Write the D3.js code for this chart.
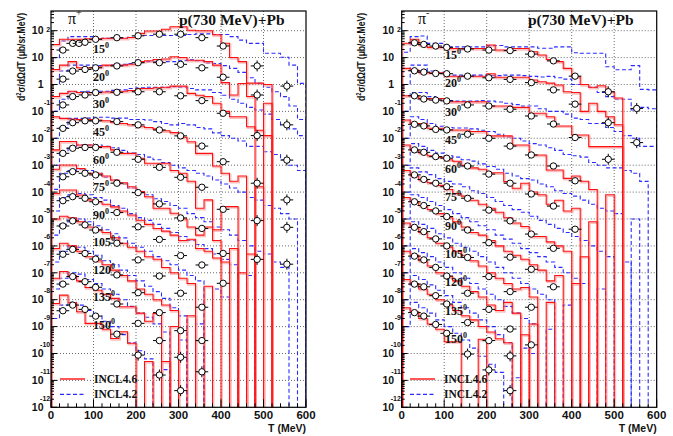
<!DOCTYPE html>
<html><head><meta charset="utf-8">
<script src="https://cdn.jsdelivr.net/npm/d3@7"></script>
<style>body{margin:0;background:#fff}svg{display:block}</style>
</head><body>
<svg id="c" width="673" height="436"></svg>
<script>
// ---------------- DATA (log10 of plotted, scaled cross sections) ----------------
const angles = [15,20,30,45,60,75,90,105,120,135,150];
const xTicks = [0,100,200,300,400,500,600];
const yTickExps = [2,1,0,-1,-2,-3,-4,-5,-6,-7,-8,-9,-10,-11,-12];
const binWidth = 20;

// pi+ experimental points
const pipExpT = [28,51,66,80,105,155,205,255,305,355,405,485,555];
const pipExpLog = [
 [1.28,1.53,1.53,1.57,1.68,1.74,1.81,1.87,1.87,1.74,1.43,0.69,-0.06],
 [0.20,0.50,null,0.56,0.62,0.69,0.81,0.81,0.75,0.62,0.27,-0.39,-1.50],
 [-0.76,-0.45,null,-0.39,-0.30,-0.29,-0.27,-0.27,-0.42,-0.60,-1.07,-1.90,-2.81],
 [-1.63,-1.42,null,-1.35,-1.35,-1.38,-1.50,-1.69,-1.91,-2.29,-2.87,-3.67,-4.29],
 [-2.56,-2.37,null,-2.34,-2.34,-2.52,-2.78,-3.08,-3.45,-3.82,-4.64,-5.06,-5.31],
 [-3.43,-3.24,null,-3.30,-3.36,-3.67,-4.02,-4.44,-4.96,-5.35,-6.28,-6.50,-6.68],
 [-4.32,-4.17,null,-4.23,-4.36,-4.76,-5.29,-5.76,-6.36,-6.71,-7.39,null,null],
 [-5.26,-5.07,null,-5.22,-5.41,-5.90,-6.52,-7.12,-7.76,-8.28,null,null,null],
 [-6.31,-6.13,null,-6.28,-6.49,-7.08,-7.74,-8.48,-9.15,-9.52,null,null,null],
 [-7.42,-7.14,null,-7.33,-7.54,-8.16,-8.88,-9.52,-10.14,-10.68,null,null,null],
 [-8.41,-8.20,null,-8.36,-8.61,-9.28,-10.06,-10.80,-11.38,null,null,null,null]
];
// pi+ INCL4.6 (red), 20 MeV bins from 0 to 600, null = empty bin
const pipRedLog = [
 [1.49,1.68,1.68,1.68,1.70,1.70,1.72,1.72,1.72,1.75,1.90,1.99,1.99,2.05,2.15,2.15,2.02,2.00,2.00,1.85,1.53,1.00,0.85,0.05,0.05,0.00],
 [0.56,0.72,0.85,0.62,0.62,0.65,0.72,0.72,0.72,0.75,0.85,0.88,0.93,0.95,1.03,1.00,0.90,0.90,0.85,0.72,0.07,-0.39,0.04,-0.45,null,-0.70],
 [-0.45,-0.33,-0.25,-0.30,-0.30,-0.30,-0.28,-0.27,-0.25,-0.22,-0.15,-0.15,-0.12,-0.10,-0.06,-0.06,-0.33,-0.40,-0.45,-0.70,-1.00,-1.20,-1.20,-1.57,-1.70,-1.90],
 [-1.20,-1.26,-1.28,-1.30,-1.30,-1.32,-1.35,-1.40,-1.45,-1.50,-1.55,-1.60,-1.65,-1.72,-1.79,-1.96,-2.13,-2.56,-2.56,-3.03,-3.30,-3.60,-3.40,null,-3.80],
 [-2.43,-2.12,-2.12,-2.25,-2.25,-2.31,-2.31,-2.43,-2.56,-2.56,-2.74,-2.93,-2.93,-2.93,-3.20,-3.30,-3.60,-4.60,-4.29,-5.40,-4.54,-4.54],
 [-3.15,-2.99,-2.99,-3.12,-3.30,-3.30,-3.40,-3.55,-3.65,-3.80,-3.98,-4.17,-4.60,-4.60,-4.79,-5.00,-5.30,-5.60,-5.30,-5.80,null,-6.10,null,-6.30],
 [-4.05,-3.92,-3.92,-4.11,-4.29,-4.35,-4.45,-4.55,-4.70,-4.85,-5.05,-5.20,-5.35,-5.45,-5.60,-5.80,-5.75,-6.10,-6.20,-6.45,-6.60,null,-7.00],
 [-5.00,-4.90,-4.95,-5.10,-5.30,-5.40,-5.50,-5.70,-5.90,-6.05,-6.20,-6.40,-6.50,-6.80,-7.00,-7.20,-7.40,null,-7.50],
 [-6.10,-5.90,-6.00,-6.20,-6.40,-6.55,-6.70,-6.90,-7.10,-7.30,-7.60,-7.80,-8.00,-8.20,-8.40,null,-8.60],
 [-7.20,-6.95,-7.10,-7.30,-7.55,-7.65,-7.80,-7.95,-8.26,-8.26,-8.50,-8.80,-8.51,null,-9.00],
 [-8.14,-7.83,-8.11,-8.45,-8.88,-8.88,-9.10,-9.44,-9.19,-9.62,null,-10.30,null,-10.30]
];
// pi+ INCL4.2 (blue dashed)
const pipBlueLog = [
 [1.00,1.62,1.78,1.78,1.78,1.70,1.72,1.72,1.72,1.75,1.82,1.82,1.82,1.82,1.82,1.82,1.86,1.88,1.88,1.86,1.86,1.78,1.65,1.53,1.53,1.16,1.16,1.01,0.72,0.04],
 [0.00,0.50,0.72,0.72,0.72,0.70,0.70,0.72,0.75,0.78,0.85,0.85,0.85,0.85,0.85,0.88,0.92,0.88,0.80,0.78,0.70,0.60,0.45,0.25,0.04,-0.10,-0.27,-0.45,-0.80,-1.30],
 [-1.00,-0.55,-0.27,-0.27,-0.25,-0.25,-0.25,-0.22,-0.20,-0.15,-0.12,-0.10,-0.10,-0.10,-0.08,-0.10,-0.15,-0.20,-0.20,-0.30,-0.40,-0.55,-0.70,-0.85,-0.95,-1.10,-1.30,-1.50,-1.65,-1.90],
 [-2.00,-1.60,-1.26,-1.26,-1.25,-1.22,-1.22,-1.25,-1.25,-1.30,-1.30,-1.32,-1.38,-1.45,-1.50,-1.45,-1.50,-1.60,-1.65,-1.80,-1.90,-2.00,-2.10,-2.30,-2.30,-2.50,-2.60,-2.80,-3.00,-3.20],
 [-3.00,-2.50,-2.30,-2.25,-2.25,-2.25,-2.30,-2.35,-2.45,-2.55,-2.60,-2.70,-2.80,-2.90,-3.00,-3.10,-3.20,-3.30,-3.40,-3.55,-3.70,-3.85,-4.00,-4.20,-4.30,-4.50,-4.60,-4.80,-5.00],
 [-3.90,-3.30,-3.20,-3.15,-3.20,-3.30,-3.45,-3.55,-3.70,-3.85,-4.00,-4.10,-4.25,-4.35,-4.50,-4.60,-4.80,-4.95,-5.10,-5.30,-5.40,-5.60,-5.80,-6.00,-6.20,-6.30,-6.60,-6.80],
 [-4.70,-4.20,-4.10,-4.05,-4.10,-4.20,-4.30,-4.50,-4.60,-4.80,-4.95,-5.05,-5.20,-5.35,-5.50,-5.65,-5.80,-5.95,-6.10,-6.30,-6.50,-6.70,null,-7.10],
 [-5.60,-5.20,-5.00,-5.00,-5.10,-5.25,-5.40,-5.55,-5.70,-5.90,-6.05,-6.20,-6.40,-6.55,-6.70,-6.90,-7.10,-7.30,null,-7.60,-7.90],
 [-6.60,-6.20,-6.00,-6.05,-6.20,-6.35,-6.55,-6.70,-6.90,-7.10,-7.30,-7.50,-7.70,-7.95,-8.30,-8.60,null,-8.90],
 [-7.60,-7.20,-7.00,-7.05,-7.25,-7.40,-7.60,-7.80,-8.00,-8.25,-8.50,-8.65,-8.90,-9.20,null,-9.50],
 [-8.70,-8.20,-8.10,-8.20,-8.40,-8.60,-8.80,-9.00,-9.30,-9.60,-9.90,-10.20,null,-10.60]
];

// pi- experimental points
const pimExpT = [30,52,80,106,155,205,255,305,357,408,486,553];
const pimExpLog = [
 [1.55,1.49,1.43,1.38,1.32,1.28,1.26,1.13,0.88,0.31,-0.27,-0.89],
 [0.51,0.46,0.41,0.40,0.31,0.25,0.19,0.07,-0.20,-0.73,-1.42,-2.16],
 [-0.42,-0.54,-0.58,-0.61,-0.76,-0.80,-0.92,-1.17,-1.47,-1.97,-2.78,null],
 [-1.48,-1.54,-1.67,-1.69,-1.85,-2.00,-2.29,-2.62,-3.03,-3.58,null,null],
 [-2.43,-2.52,-2.68,-2.74,-3.03,-3.33,-3.67,-4.07,-4.52,-5.38,null,null],
 [-3.36,-3.53,-3.67,-3.80,-4.23,-4.67,-5.07,-5.56,-6.09,null,null,null],
 [-4.36,-4.50,-4.70,-4.91,-5.41,-5.88,-6.42,-6.87,-7.52,null,null,null],
 [-5.31,-5.47,-5.74,-6.00,-6.43,-7.14,-7.70,-8.28,null,null,null,null],
 [-6.38,-6.52,-6.80,-7.12,-7.76,-8.36,-9.09,-9.68,null,null,null,null],
 [-7.42,-7.52,-7.85,-8.16,-8.85,-9.52,-10.09,null,null,null,null,null],
 [-8.48,-8.61,-8.92,-9.25,-10.02,-10.61,-11.38,null,null,null,null,null]
];
const pimRedLog = [
 [1.53,1.68,1.47,1.38,1.38,1.34,1.34,1.34,1.34,1.34,1.47,1.28,1.28,1.34,1.34,1.22,1.10,0.93,0.85,0.60,0.29,0.00,-0.10,-0.05,-0.27,-0.50],
 [0.60,0.54,0.44,0.44,0.44,0.31,0.31,0.31,0.31,0.31,0.40,0.27,0.27,0.27,0.27,0.17,0.10,0.05,-0.02,-0.27,-0.30,-1.00,-0.70,-1.00,-1.20,-1.50],
 [-0.42,-0.42,-0.52,-0.52,-0.52,-0.64,-0.64,-0.64,-0.64,-0.64,-0.80,-0.80,-0.80,-0.85,-0.85,-1.07,-1.07,-1.20,-1.54,-1.54,-1.88,-1.88,-2.31,-2.31,-2.31,-2.31],
 [-1.32,-1.45,-1.45,-1.63,-1.63,-1.69,-1.69,-1.69,-1.75,-1.75,-1.91,-1.91,-1.91,-2.25,-2.25,-2.62,-2.62,-3.18,-3.18,-3.49,-3.40,-3.60,-3.90,null,-4.10],
 [-2.25,-2.45,-2.55,-2.65,-2.70,-2.80,-2.85,-3.00,-3.10,-3.15,-3.28,-3.28,-3.61,-3.86,-3.67,-4.00,-4.10,-4.45,-4.30,-4.70,-4.60,null,-5.10],
 [-3.20,-3.40,-3.55,-3.65,-3.75,-3.90,-4.05,-4.15,-4.30,-4.45,-4.60,-4.75,-4.95,-5.15,-5.28,-5.65,-5.65,-5.85,-6.00,-6.20,null,-6.40],
 [-4.20,-4.35,-4.50,-4.65,-4.80,-4.95,-5.10,-5.30,-5.50,-5.60,-5.80,-6.00,-6.20,-6.35,-6.50,-6.70,-6.90,-7.30,-7.10,null,-7.40],
 [-5.15,-5.30,-5.50,-5.70,-5.90,-6.05,-6.20,-6.35,-6.55,-6.75,-7.00,-7.20,-7.40,-7.60,-7.55,-7.90,null,-8.10],
 [-6.20,-6.35,-6.55,-6.75,-7.00,-7.15,-7.30,-7.50,-7.70,-7.90,-8.20,-8.40,-8.10,-8.50,null,-8.90],
 [-7.25,-7.40,-7.60,-7.80,-8.00,-8.20,-8.40,-8.60,-8.75,-9.00,-9.20,-9.45,-9.60,null,-9.30],
 [-8.30,-8.45,-8.70,-8.90,-9.10,-9.56,-9.56,null,null,-9.47]
];
const pimBlueLog = [
 [1.20,1.78,1.80,1.53,1.53,1.40,1.40,1.40,1.40,1.40,1.45,1.45,1.40,1.40,1.40,1.40,1.35,1.35,1.40,1.40,1.18,1.16,1.16,1.16,0.66,0.55,0.55,0.70,-0.18,-0.20],
 [0.00,0.72,0.72,0.50,0.45,0.35,0.35,0.35,0.35,0.35,0.33,0.33,0.35,0.35,0.33,0.30,0.28,0.30,0.25,0.20,0.00,0.00,-0.10,-0.30,-0.45,-0.55,-0.55,-0.95,-0.85,-0.90],
 [-1.00,-0.30,-0.30,-0.45,-0.55,-0.60,-0.62,-0.62,-0.62,-0.60,-0.62,-0.65,-0.70,-0.75,-0.80,-0.80,-0.90,-1.00,-1.00,-1.10,-1.25,-1.30,-1.45,-1.45,-1.60,-1.75,-1.90,-2.00,-2.30,-2.30],
 [-2.00,-1.20,-1.30,-1.45,-1.55,-1.60,-1.62,-1.62,-1.65,-1.70,-1.75,-1.85,-1.95,-2.00,-2.10,-2.20,-2.25,-2.35,-2.45,-2.60,-2.65,-2.70,-2.90,-3.00,-3.10,-3.10,-3.20,-3.30,-3.60],
 [-3.00,-2.20,-2.30,-2.45,-2.55,-2.65,-2.70,-2.80,-2.85,-2.95,-3.05,-3.15,-3.30,-3.40,-3.50,-3.55,-3.70,-3.80,-3.95,-4.05,-4.15,-4.30,-4.45,-4.60,-4.70,-4.80,null,-5.00],
 [-4.00,-3.10,-3.25,-3.35,-3.50,-3.60,-3.70,-3.80,-3.95,-4.05,-4.20,-4.35,-4.50,-4.65,-4.75,-4.90,-5.05,-5.20,-5.35,-5.50,-5.65,-5.80,-6.00,-6.20,-6.40,null,-6.60],
 [-5.00,-4.10,-4.20,-4.35,-4.50,-4.65,-4.80,-4.95,-5.10,-5.25,-5.40,-5.60,-5.75,-5.90,-6.10,-6.25,-6.40,-6.60,-6.80,-7.00,-7.20,-7.40,null,-7.60],
 [-6.00,-5.10,-5.20,-5.35,-5.55,-5.70,-5.90,-6.05,-6.20,-6.40,-6.60,-6.80,-7.00,-7.20,-7.40,-7.60,-7.80,-8.00,null,-8.20],
 [-7.00,-6.10,-6.25,-6.40,-6.60,-6.80,-7.00,-7.20,-7.40,-7.60,-7.80,-8.00,-8.25,-8.50,-8.70,-8.90,null,-9.10],
 [-8.00,-7.10,-7.25,-7.45,-7.65,-7.85,-8.10,-8.30,-8.50,-8.75,-9.00,-9.30,-9.60,null,-9.80,-10.00],
 [-9.00,-8.10,-8.30,-8.50,-8.75,-9.00,-9.25,-9.50,-9.80,-10.10,-10.40,-10.70,null,-10.90]
];
const legendNames = ["INCL4.6","INCL4.2"];

// ---------------- DRAWING ----------------
const svg = d3.select("#c");
const yTop = 11, yBot = 407.3;
const yS = d3.scaleLog().domain([1e-12, Math.pow(10, 2.732)]).range([yBot, yTop]);
const nBins = 600 / binWidth;
const pad = a => a.concat(Array(Math.max(0, nBins - a.length)).fill(null));
const SANS = "'Liberation Sans', Arial, Helvetica, sans-serif";
const SERIF = "'Liberation Serif', 'Times New Roman', serif";

const panels = [
  {id:"L", x0:51, x1:306, expT:pipExpT, exp:pipExpLog, red:pipRedLog, blue:pipBlueLog, sign:"+",
   titleYX:24.5, angX:93, angY0:53.3, angStep:27.57, piX:68, pX:179, legX:60},
  {id:"R", x0:401.7, x1:656.7, expT:pimExpT, exp:pimExpLog, red:pimRedLog, blue:pimBlueLog, sign:"-",
   titleYX:365, angX:445, angY0:59, angStep:28.43, piX:418, pX:528, legX:410}
];

function histPath(vals, x) {
  const v = pad(vals);
  let p = `M${x(0)},${yBot}`;
  v.forEach((lv, i) => {
    const yy = lv == null ? yBot + 2 : yS(Math.pow(10, lv));
    p += `L${x(i*binWidth)},${yy}L${x((i+1)*binWidth)},${yy}`;
  });
  p += `L${x(600)},${yBot + 2}`;
  return p;
}

panels.forEach(P => {
  const x = d3.scaleLinear().domain([0, 600]).range([P.x0, P.x1]);
  const g = svg.append("g");
  const clipId = "clip" + P.id;
  svg.append("clipPath").attr("id", clipId).append("rect")
    .attr("x", P.x0).attr("y", yTop).attr("width", P.x1 - P.x0).attr("height", yBot - yTop);

  // grid
  const grid = g.append("g").attr("stroke", "#444").attr("stroke-width", 0.8).attr("stroke-dasharray", "1,2");
  xTicks.filter(t => t > 0 && t < 600).forEach(t =>
    grid.append("line").attr("x1", x(t)).attr("x2", x(t)).attr("y1", yTop).attr("y2", yBot));
  yTickExps.filter(e => e > -12).forEach(e =>
    grid.append("line").attr("x1", P.x0).attr("x2", P.x1).attr("y1", yS(Math.pow(10, e))).attr("y2", yS(Math.pow(10, e))));

  // histograms
  const hg = g.append("g").attr("clip-path", `url(#${clipId})`).attr("fill", "none");
  P.blue.forEach(vals => hg.append("path").attr("d", histPath(vals, x))
    .attr("stroke", "#2b2bff").attr("stroke-width", 1.1).attr("stroke-dasharray", "4,2.5"));
  P.red.forEach(vals => hg.append("path").attr("d", histPath(vals, x))
    .attr("stroke", "#f58c8c").attr("stroke-opacity", 0.55).attr("stroke-width", 2)
    .attr("transform", "translate(1,1.2)"));
  P.red.forEach(vals => hg.append("path").attr("d", histPath(vals, x))
    .attr("stroke", "#ff1010").attr("stroke-width", 1.05));

  // experimental points
  const eg = g.append("g");
  P.exp.forEach((row, a) => {
    row.forEach((lv, j) => {
      if (lv == null) return;
      const T = P.expT[j];
      const cx = x(T), cy = yS(Math.pow(10, lv));
      eg.append("line").attr("x1", x(T - 15)).attr("x2", x(T + 15)).attr("y1", cy).attr("y2", cy)
        .attr("stroke", "#000").attr("stroke-width", 1);
      if (T > 450 || lv < -9.9) {
        eg.append("line").attr("x1", cx).attr("x2", cx).attr("y1", cy - 5.5).attr("y2", cy + 5.5)
          .attr("stroke", "#000").attr("stroke-width", 1);
      }
      eg.append("circle").attr("cx", cx).attr("cy", cy).attr("r", 3.2)
        .attr("fill", "#fff").attr("stroke", "#000").attr("stroke-width", 1);
    });
  });

  // frame
  g.append("rect").attr("x", P.x0).attr("y", yTop).attr("width", P.x1 - P.x0).attr("height", yBot - yTop)
    .attr("fill", "none").attr("stroke", "#000").attr("stroke-width", 1.2);

  // axis ticks (major decades + minor 2..9)
  const tk = g.append("g").attr("stroke", "#000").attr("stroke-width", 1);
  yTickExps.forEach(e => {
    const yy = yS(Math.pow(10, e));
    tk.append("line").attr("x1", P.x0).attr("x2", P.x0 + 6).attr("y1", yy).attr("y2", yy);
    d3.range(2, 10).forEach(m => {
      const v = m * Math.pow(10, e);
      if (v > yS.domain()[1]) return;
      const ym = yS(v);
      tk.append("line").attr("x1", P.x0).attr("x2", P.x0 + 3).attr("y1", ym).attr("y2", ym);
    });
  });
  d3.range(0, 601, 20).forEach(t => {
    const len = t % 100 === 0 ? 8 : 4;
    tk.append("line").attr("x1", x(t)).attr("x2", x(t)).attr("y1", yBot).attr("y2", yBot - len);
  });

  // y tick labels
  const lab = g.append("g").attr("font-family", SANS).attr("font-weight", "bold").attr("fill", "#111");
  yTickExps.forEach(e => {
    const yy = yS(Math.pow(10, e));
    if (e === 0) {
      lab.append("text").attr("x", P.x0 - 7.5).attr("y", yy + 3.8).attr("text-anchor", "end")
        .attr("font-size", 10.5).text("1");
    } else if (e === 1) {
      lab.append("text").attr("x", P.x0 - 7.5).attr("y", yy + 3.8).attr("text-anchor", "end")
        .attr("font-size", 10.5).text("10");
    } else {
      lab.append("text").attr("x", P.x0 - 7.5).attr("y", yy + 3.8).attr("text-anchor", "end")
        .attr("font-size", 10.5).text("10");
      lab.append("text").attr("x", P.x0 - 0.8).attr("y", e > 0 ? yy + 1.2 : yy - 6.4).attr("text-anchor", "end")
        .attr("font-size", 7).text(String(e));
    }
  });
  // x tick labels
  xTicks.forEach(t => lab.append("text").attr("x", x(t)).attr("y", 419).attr("text-anchor", "middle")
    .attr("font-size", 11.5).text(t));
  lab.append("text").attr("x", P.x1).attr("y", 431.5).attr("text-anchor", "end").attr("font-size", 10.5).text("T (MeV)");

  // y title (condensed along its length)
  const yt = lab.append("text").attr("transform", `translate(${P.titleYX},13) rotate(-90) scale(0.78,1)`)
    .attr("text-anchor", "end").attr("font-size", 11);
  yt.append("tspan").text("d");
  yt.append("tspan").attr("font-size", 7.5).attr("dy", -4).text("2");
  yt.append("tspan").attr("dy", 4).text("σ/dΩdT  (μb/sr.MeV)");

  // titles
  const tt = g.append("g").attr("font-family", SERIF).attr("fill", "#111");
  const pi = tt.append("text").attr("x", P.piX).attr("y", 24).attr("font-size", 16);
  pi.append("tspan").text("π");
  pi.append("tspan").attr("font-size", 10).attr("dy", -8).text(P.sign === "+" ? "+" : "-");
  tt.append("text").attr("x", P.pX).attr("y", 24.5).attr("font-size", 15.5).attr("font-weight", "bold")
    .text("p(730 MeV)+Pb");

  // angle labels
  angles.forEach((a, k) => {
    const t = tt.append("text").attr("x", P.angX).attr("y", P.angY0 + k * P.angStep)
      .attr("font-size", 12).attr("font-weight", "bold");
    t.append("tspan").text(a);
    t.append("tspan").attr("font-size", 8).attr("dy", -5).text("0");
  });

  // legend
  const lg = g.append("g");
  lg.append("line").attr("x1", P.legX).attr("x2", P.legX + 25).attr("y1", 379).attr("y2", 379)
    .attr("stroke", "#ff1010").attr("stroke-width", 1.4);
  lg.append("line").attr("x1", P.legX).attr("x2", P.legX + 25).attr("y1", 394.3).attr("y2", 394.3)
    .attr("stroke", "#2b2bff").attr("stroke-width", 1.2).attr("stroke-dasharray", "4,2.5");
  lg.append("text").attr("x", P.legX + 34).attr("y", 383).attr("font-family", SERIF).attr("font-weight", "bold")
    .attr("font-size", 11.5).attr("fill", "#111").text(legendNames[0]);
  lg.append("text").attr("x", P.legX + 34).attr("y", 398).attr("font-family", SERIF).attr("font-weight", "bold")
    .attr("font-size", 11.5).attr("fill", "#111").text(legendNames[1]);
});
</script>
</body></html>
